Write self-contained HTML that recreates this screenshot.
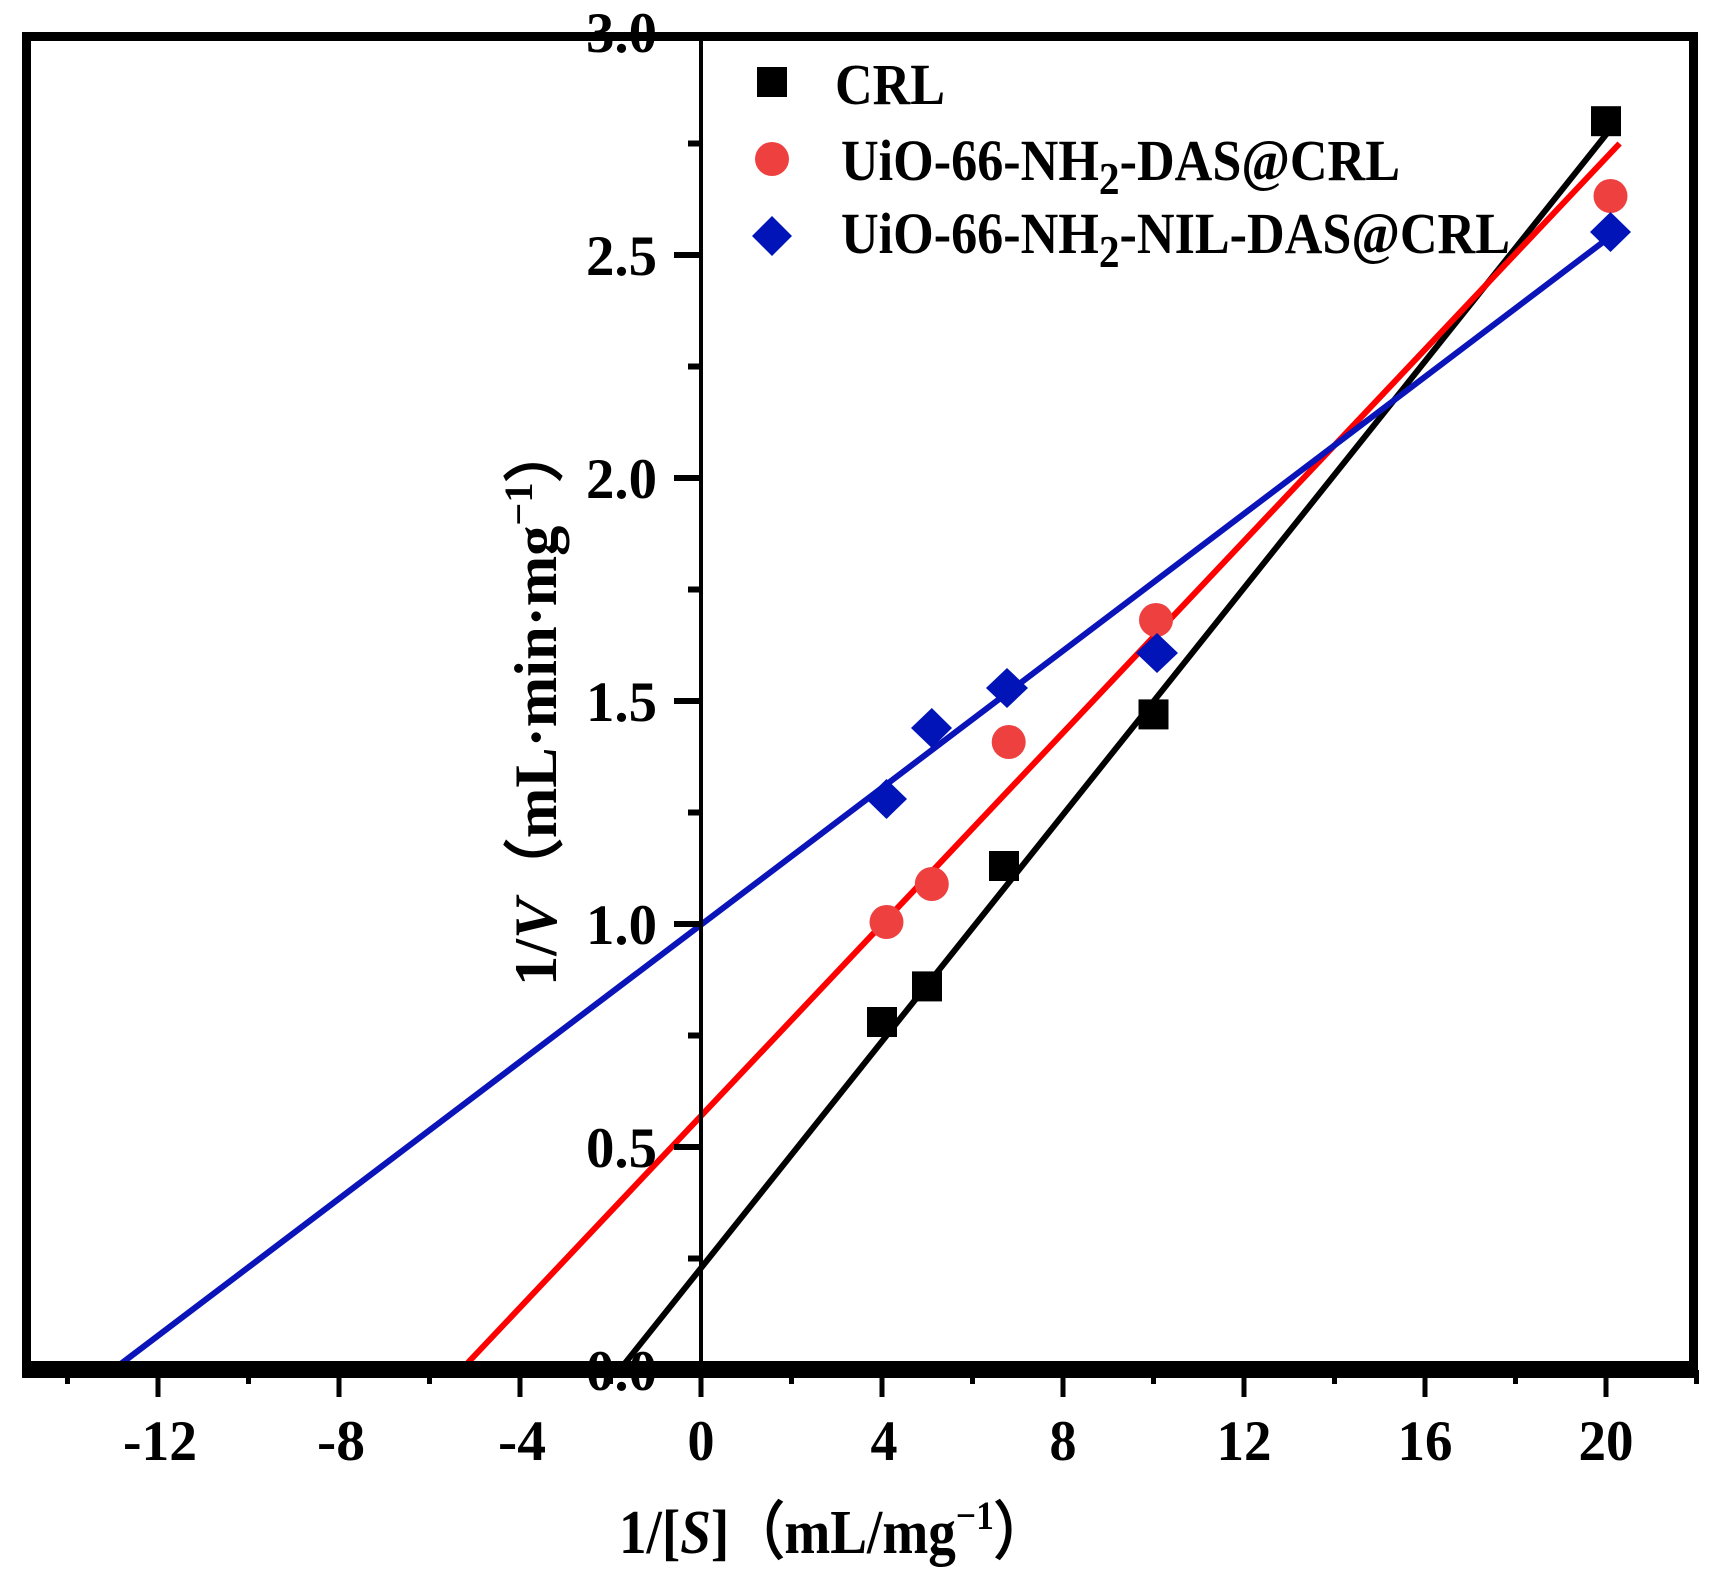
<!DOCTYPE html>
<html><head><meta charset="utf-8"><style>html,body{margin:0;padding:0;background:#fff}svg{display:block}</style></head>
<body>
<svg width="1718" height="1578" viewBox="0 0 1718 1578" xmlns="http://www.w3.org/2000/svg" font-family="Liberation Serif, serif" font-weight="bold">
<rect width="1718" height="1578" fill="#fff"/>
<line x1="619.6" y1="1370" x2="1615" y2="123.4" stroke="#000" stroke-width="6"/>
<line x1="461" y1="1370" x2="1619.6" y2="143.5" stroke="#ff0000" stroke-width="6"/>
<line x1="112.7" y1="1370" x2="1615" y2="233" stroke="#0a14b8" stroke-width="6"/>
<g fill="#000">
<rect x="867" y="1007" width="30" height="30"/>
<rect x="912" y="971.4" width="30" height="30"/>
<rect x="989" y="851" width="30" height="30"/>
<rect x="1138.5" y="699.4" width="30" height="30"/>
<rect x="1591" y="106.2" width="30" height="30"/>
</g>
<g fill="#ef4040">
<circle cx="886.5" cy="922" r="17"/>
<circle cx="931.8" cy="884" r="17"/>
<circle cx="1008.7" cy="742" r="17"/>
<circle cx="1156" cy="620" r="17"/>
<circle cx="1610.5" cy="196" r="17"/>
</g>
<g fill="#0014b8">
<polygon points="886.5,779 907,799 886.5,819 866,799"/>
<polygon points="931.8,708 952,728 931.8,748 911,728"/>
<polygon points="1007,668 1028,688 1007,708 986,688"/>
<polygon points="1157,633 1178,653 1157,673 1136,653"/>
<polygon points="1610.5,212 1631,232 1610.5,252 1590,232"/>
</g>
<rect x="26.5" y="36.5" width="1667" height="1329" fill="none" stroke="#000" stroke-width="9"/>
<line x1="22" y1="1370" x2="1698" y2="1370" stroke="#000" stroke-width="16"/>
<line x1="701" y1="32" x2="701" y2="1370" stroke="#000" stroke-width="4"/>
<g stroke="#000" stroke-width="5">
<line x1="67.5" y1="1370" x2="67.5" y2="1384"/>
<line x1="158" y1="1370" x2="158" y2="1397"/>
<line x1="248.5" y1="1370" x2="248.5" y2="1384"/>
<line x1="339" y1="1370" x2="339" y2="1397"/>
<line x1="429.5" y1="1370" x2="429.5" y2="1384"/>
<line x1="520" y1="1370" x2="520" y2="1397"/>
<line x1="610.5" y1="1370" x2="610.5" y2="1384"/>
<line x1="701" y1="1370" x2="701" y2="1397"/>
<line x1="791.5" y1="1370" x2="791.5" y2="1384"/>
<line x1="882" y1="1370" x2="882" y2="1397"/>
<line x1="972.5" y1="1370" x2="972.5" y2="1384"/>
<line x1="1063" y1="1370" x2="1063" y2="1397"/>
<line x1="1153.5" y1="1370" x2="1153.5" y2="1384"/>
<line x1="1244" y1="1370" x2="1244" y2="1397"/>
<line x1="1334.5" y1="1370" x2="1334.5" y2="1384"/>
<line x1="1425" y1="1370" x2="1425" y2="1397"/>
<line x1="1515.5" y1="1370" x2="1515.5" y2="1384"/>
<line x1="1606" y1="1370" x2="1606" y2="1397"/>
<line x1="1696.5" y1="1370" x2="1696.5" y2="1384"/>
</g>
<g stroke="#000" stroke-width="6">
<line x1="674" y1="1147" x2="701" y2="1147"/>
<line x1="674" y1="924" x2="701" y2="924"/>
<line x1="674" y1="701" x2="701" y2="701"/>
<line x1="674" y1="478" x2="701" y2="478"/>
<line x1="674" y1="255" x2="701" y2="255"/>
<line x1="688" y1="1258.5" x2="701" y2="1258.5"/>
<line x1="688" y1="1035.5" x2="701" y2="1035.5"/>
<line x1="688" y1="812.5" x2="701" y2="812.5"/>
<line x1="688" y1="589.5" x2="701" y2="589.5"/>
<line x1="688" y1="366.5" x2="701" y2="366.5"/>
<line x1="688" y1="143.5" x2="701" y2="143.5"/>
</g>
<g font-size="57" text-anchor="middle">
<text x="160" y="1460" textLength="74" lengthAdjust="spacingAndGlyphs">-12</text>
<text x="341" y="1460" textLength="48" lengthAdjust="spacingAndGlyphs">-8</text>
<text x="522" y="1460" textLength="48" lengthAdjust="spacingAndGlyphs">-4</text>
<text x="701" y="1460" textLength="27" lengthAdjust="spacingAndGlyphs">0</text>
<text x="884" y="1460" textLength="27" lengthAdjust="spacingAndGlyphs">4</text>
<text x="1063" y="1460" textLength="27" lengthAdjust="spacingAndGlyphs">8</text>
<text x="1244" y="1460" textLength="55" lengthAdjust="spacingAndGlyphs">12</text>
<text x="1425" y="1460" textLength="55" lengthAdjust="spacingAndGlyphs">16</text>
<text x="1606" y="1460" textLength="55" lengthAdjust="spacingAndGlyphs">20</text>
</g>
<g font-size="57">
<text x="586" y="1390" textLength="71" lengthAdjust="spacingAndGlyphs">0.0</text>
<text x="586" y="1167" textLength="71" lengthAdjust="spacingAndGlyphs">0.5</text>
<text x="586" y="944" textLength="71" lengthAdjust="spacingAndGlyphs">1.0</text>
<text x="586" y="721" textLength="71" lengthAdjust="spacingAndGlyphs">1.5</text>
<text x="586" y="498" textLength="71" lengthAdjust="spacingAndGlyphs">2.0</text>
<text x="586" y="275" textLength="71" lengthAdjust="spacingAndGlyphs">2.5</text>
<text x="586" y="52" textLength="71" lengthAdjust="spacingAndGlyphs">3.0</text>
</g>
<text x="619" y="1553" font-size="62" textLength="430" lengthAdjust="spacingAndGlyphs">1/[<tspan font-style="italic">S</tspan>]（mL/mg<tspan dy="-24" font-size="40">−1</tspan><tspan dy="24">）</tspan></text>
<text transform="translate(556,986) rotate(-90)" font-size="60" textLength="564" lengthAdjust="spacingAndGlyphs">1/<tspan font-style="italic">V</tspan>（mL·min·mg<tspan dy="-24" font-size="40">−1</tspan><tspan dy="24">）</tspan></text>
<rect x="757" y="67" width="30" height="30" fill="#000"/>
<circle cx="772" cy="159" r="17" fill="#ef4040"/>
<polygon points="772,216 792,236 772,256 752,236" fill="#0014b8"/>
<g font-size="58">
<text x="835" y="104" textLength="110" lengthAdjust="spacingAndGlyphs">CRL</text>
<text x="841" y="180" textLength="559" lengthAdjust="spacingAndGlyphs">UiO-66-NH<tspan dy="14" font-size="46">2</tspan><tspan dy="-14">-DAS@CRL</tspan></text>
<text x="841" y="253" textLength="669" lengthAdjust="spacingAndGlyphs">UiO-66-NH<tspan dy="14" font-size="46">2</tspan><tspan dy="-14">-NIL-DAS@CRL</tspan></text>
</g>
</svg>
</body></html>
